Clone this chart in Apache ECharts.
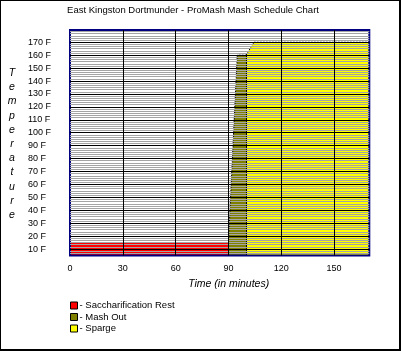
<!DOCTYPE html>
<html>
<head>
<meta charset="utf-8">
<script src="https://cdn.jsdelivr.net/npm/echarts@6/dist/echarts.min.js"></script>
<style>
body{margin:0;background:#fff}
#grafica{width:401px;height:351px}
</style>
</head>
<body>
<div id="grafica"></div>
<script>
// datos: [tiempo en minutos, temperatura en F]
var titulo = 'East Kingston Dortmunder - ProMash Mash Schedule Chart';
var nombres = ['Saccharification Rest', 'Mash Out', 'Sparge'];
var colores = ['#ff0000', '#808000', '#ffff00'];
var sacarificacion = [[0, 15], [90, 15]];
var mashOut = [[90, 15], [95, 160], [100, 160]];
var sparge = [[100, 160], [104.5, 170], [170, 170]];
var ejeTiempo = [0, 170, 30];      // min, max, paso
var ejeTemp = [5, 179.5, 10];      // min, max, paso
var letrasEje = 'Temperature'.split('');

var fuente = '"Liberation Sans", Arial, sans-serif';

function serieArea(nombre, datos, color, conLinea) {
    return {
        name: nombre,
        type: 'line',
        data: datos,
        symbol: 'none',
        showSymbol: false,
        silent: true,
        zlevel: 0,
        itemStyle: {color: color},
        lineStyle: conLinea ? {color: '#000', width: 1, type: [2, 1]} : {width: 0, opacity: 0},
        areaStyle: {color: color, opacity: 1, origin: 'start'},
        emphasis: {disabled: true}
    };
}

function renderGrafico() {
    var grafico = echarts.init(document.getElementById('grafica'));

    var series = [
        serieArea(nombres[0], sacarificacion, colores[0], false),
        serieArea(nombres[1], mashOut, colores[1], true),
        serieArea(nombres[2], sparge, colores[2], true)
    ];
    // separacion vertical entre mash out y sparge
    series[2].markLine = {
        silent: true,
        symbol: 'none',
        label: {show: false},
        lineStyle: {color: '#000', width: 1, type: 'solid'},
        data: [[{coord: [sparge[0][0], ejeTemp[0]]}, {coord: sparge[0]}]]
    };

    var option = {
        animation: false,
        title: {
            text: titulo,
            left: 193,
            top: 5,
            textAlign: 'center',
            padding: 0,
            textStyle: {fontFamily: fuente, fontSize: 9.5, fontWeight: 'normal', color: '#000'}
        },
        legend: {
            orient: 'vertical',
            left: 70,
            top: 300.5,
            padding: 0,
            icon: 'rect',
            itemWidth: 7,
            itemHeight: 7,
            itemGap: 1.5,
            selectedMode: false,
            itemStyle: {borderColor: '#000', borderWidth: 1},
            formatter: '- {name}',
            textStyle: {fontFamily: fuente, fontSize: 9.5, color: '#000', padding: [0, 0, 0, -3]},
            data: nombres
        },
        grid: {
            left: 70,
            top: 30,
            right: 31.7,
            bottom: 95.5,
            show: true,
            zlevel: 1,
            backgroundColor: 'transparent',
            borderColor: '#000080',
            borderWidth: 2
        },
        xAxis: {
            type: 'value',
            min: ejeTiempo[0],
            max: ejeTiempo[1],
            interval: ejeTiempo[2],
            zlevel: 1,
            axisLine: {show: false},
            axisTick: {show: false},
            axisLabel: {
                margin: 9,
                showMaxLabel: false,
                fontFamily: fuente,
                fontSize: 9,
                color: '#000'
            },
            splitLine: {show: true, showMinLine: false, showMaxLine: false, lineStyle: {color: '#000', width: 1}},
            name: 'Time (in minutes)',
            nameLocation: 'middle',
            nameGap: 21.5,
            nameTextStyle: {fontFamily: fuente, fontSize: 10.5, fontStyle: 'italic', color: '#000', padding: [0, 0, 0, 18]}
        },
        yAxis: {
            type: 'value',
            min: ejeTemp[0],
            max: ejeTemp[1],
            minInterval: ejeTemp[2],
            maxInterval: ejeTemp[2],
            zlevel: 1,
            axisLine: {show: false},
            axisTick: {show: false},
            minorTick: {show: false, splitNumber: 6},
            axisLabel: {
                formatter: '{value} F',
                align: 'left',
                margin: 42,
                showMinLabel: false,
                showMaxLabel: false,
                fontFamily: fuente,
                fontSize: 9,
                color: '#000',
                padding: [0, 0, 3, 0]
            },
            splitLine: {show: true, showMinLine: false, showMaxLine: false, lineStyle: {color: '#000', width: 1}},
            minorSplitLine: {show: true, lineStyle: {color: '#a4a4a4', width: 1}}
        },
        graphic: [
            {
                type: 'text',
                x: 12,
                y: 144,
                style: {
                    text: letrasEje.join('\n'),
                    fontFamily: fuente,
                    fontSize: 10.5,
                    fontStyle: 'italic',
                    fill: '#000',
                    align: 'center',
                    verticalAlign: 'middle',
                    lineHeight: 14.2
                }
            },
            // marco de la imagen
            {type: 'line', shape: {x1: 0.5, y1: 0, x2: 0.5, y2: 351}, style: {stroke: '#000', lineWidth: 1}},
            {type: 'line', shape: {x1: 0, y1: 0.5, x2: 401, y2: 0.5}, style: {stroke: '#000', lineWidth: 1}},
            {type: 'line', shape: {x1: 400, y1: 0, x2: 400, y2: 351}, style: {stroke: '#000', lineWidth: 2}},
            {type: 'line', shape: {x1: 0, y1: 350, x2: 401, y2: 350}, style: {stroke: '#000', lineWidth: 2}}
        ],
        series: series
    };

    grafico.setOption(option);
}

renderGrafico();
</script>
</body>
</html>
